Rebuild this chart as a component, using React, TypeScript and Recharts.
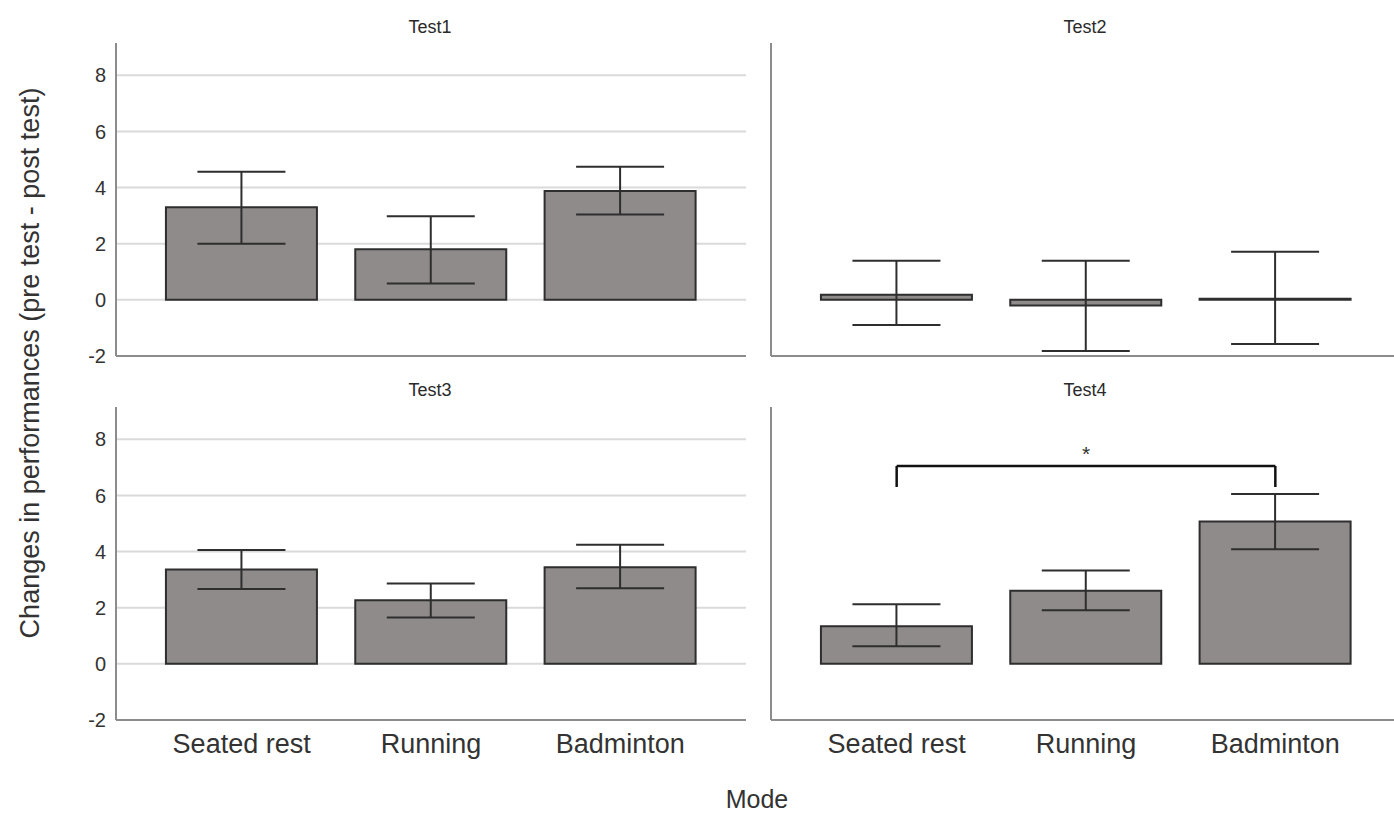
import { BarChart, Bar, XAxis, YAxis, CartesianGrid, ErrorBar, ReferenceLine } from "recharts";

const categories = ["Seated rest", "Running", "Badminton"];
const yTicks = [-2, 0, 2, 4, 6, 8];
const gridValues = [0, 2, 4, 6, 8];

const test1Mean = [3.3, 1.8, 3.88];
const test1Low = [2.0, 0.58, 3.04];
const test1High = [4.56, 2.98, 4.74];

const test2Mean = [0.18, -0.2, 0.04];
const test2Low = [-0.9, -1.82, -1.57];
const test2High = [1.39, 1.39, 1.71];

const test3Mean = [3.36, 2.27, 3.44];
const test3Low = [2.67, 1.65, 2.69];
const test3High = [4.06, 2.86, 4.24];

const test4Mean = [1.34, 2.6, 5.07];
const test4Low = [0.63, 1.91, 4.08];
const test4High = [2.12, 3.33, 6.05];

// significance bracket in Test4
const bracketFrom = "Seated rest";
const bracketTo = "Badminton";
const bracketTop = 7.05;
const bracketLeg = 6.3;

const FONT = "'Liberation Sans', Arial, sans-serif";
const BAR_FILL = "#8f8b8a";
const DARK = "#2e2e2e";
const GRID = "#dadada";
const AXIS = "#8c8c8c";
const TEXT = "#333";

const buildRows = (mean: number[], low: number[], high: number[]) =>
  categories.map((name, i) => ({
    name,
    mean: mean[i],
    err: [mean[i] - low[i], high[i] - mean[i]],
  }));

interface PanelProps {
  rows: { name: string; mean: number; err: number[] }[];
  left: number;
  top: number;
  height: number;
  marginTop: number;
  xAxisHeight: number;
  showYTicks: boolean;
  showXTicks: boolean;
  bracket?: boolean;
}

const Panel = ({ rows, left, top, height, marginTop, xAxisHeight, showYTicks, showXTicks, bracket }: PanelProps) => (
  <div style={{ position: "absolute", left, top }}>
    <BarChart
      width={760}
      height={height}
      data={rows}
      margin={{ top: marginTop, right: 14, left: 0, bottom: height - marginTop - 313 - xAxisHeight }}
      barCategoryGap="10%"
    >
      <CartesianGrid vertical={false} stroke={GRID} strokeWidth={2} horizontalValues={gridValues} />
      <XAxis
        dataKey="name"
        padding={{ left: 31, right: 31 }}
        height={xAxisHeight}
        tick={showXTicks ? { fill: TEXT, fontSize: 27, fontFamily: FONT } : false}
        tickLine={false}
        tickMargin={8}
        axisLine={{ stroke: AXIS, strokeWidth: 2 }}
      />
      <YAxis
        width={116}
        domain={[-2, 9.15]}
        ticks={yTicks}
        tick={showYTicks ? { fill: TEXT, fontSize: 20, fontFamily: FONT } : false}
        tickLine={false}
        tickMargin={4}
        axisLine={{ stroke: AXIS, strokeWidth: 2 }}
      />
      <Bar dataKey="mean" fill={BAR_FILL} stroke={DARK} strokeWidth={2} isAnimationActive={false}>
        <ErrorBar dataKey="err" width={44} stroke={DARK} strokeWidth={2} direction="y" />
      </Bar>
      {bracket && (
        <ReferenceLine
          segment={[{ x: bracketFrom, y: bracketTop }, { x: bracketTo, y: bracketTop }]}
          stroke="#111"
          strokeWidth={2.5}
          label={{ value: "*", position: "top", fill: TEXT, fontSize: 21, fontFamily: FONT }}
        />
      )}
      {bracket && (
        <ReferenceLine
          segment={[{ x: bracketFrom, y: bracketTop }, { x: bracketFrom, y: bracketLeg }]}
          stroke="#111"
          strokeWidth={2.5}
        />
      )}
      {bracket && (
        <ReferenceLine
          segment={[{ x: bracketTo, y: bracketTop }, { x: bracketTo, y: bracketLeg }]}
          stroke="#111"
          strokeWidth={2.5}
        />
      )}
    </BarChart>
  </div>
);

const titleStyle = (x: number, y: number): React.CSSProperties => ({
  position: "absolute",
  left: x - 60,
  top: y,
  width: 120,
  textAlign: "center",
  fontSize: 18,
  lineHeight: "20px",
  color: "#2a2a2a",
  fontFamily: FONT,
});

export default function App() {
  return (
    <div
      style={{
        position: "absolute",
        left: 0,
        top: 0,
        width: 1394,
        height: 816,
        overflow: "hidden",
        background: "#fff",
        fontFamily: FONT,
      }}
    >
      <Panel rows={buildRows(test1Mean, test1Low, test1High)} left={0} top={0} height={370} marginTop={43} xAxisHeight={2} showYTicks showXTicks={false} />
      <Panel rows={buildRows(test2Mean, test2Low, test2High)} left={655} top={0} height={370} marginTop={43} xAxisHeight={2} showYTicks={false} showXTicks={false} />
      <Panel rows={buildRows(test3Mean, test3Low, test3High)} left={0} top={370} height={446} marginTop={37} xAxisHeight={96} showYTicks showXTicks />
      <Panel rows={buildRows(test4Mean, test4Low, test4High)} left={655} top={370} height={446} marginTop={37} xAxisHeight={96} showYTicks={false} showXTicks bracket />

      <div style={titleStyle(430, 17)}>Test1</div>
      <div style={titleStyle(1085, 17)}>Test2</div>
      <div style={titleStyle(430, 380)}>Test3</div>
      <div style={titleStyle(1085, 380)}>Test4</div>

      <svg width={1394} height={816} style={{ position: "absolute", left: 0, top: 0, pointerEvents: "none" }}>
        <text
          x={0}
          y={0}
          transform="translate(39, 363) rotate(-90)"
          textAnchor="middle"
          fontSize={27}
          fill={TEXT}
          fontFamily={FONT}
        >
          Changes in performances (pre test - post test)
        </text>
        <text x={757} y={808} textAnchor="middle" fontSize={25} fill={TEXT} fontFamily={FONT}>
          Mode
        </text>
      </svg>
    </div>
  );
}
